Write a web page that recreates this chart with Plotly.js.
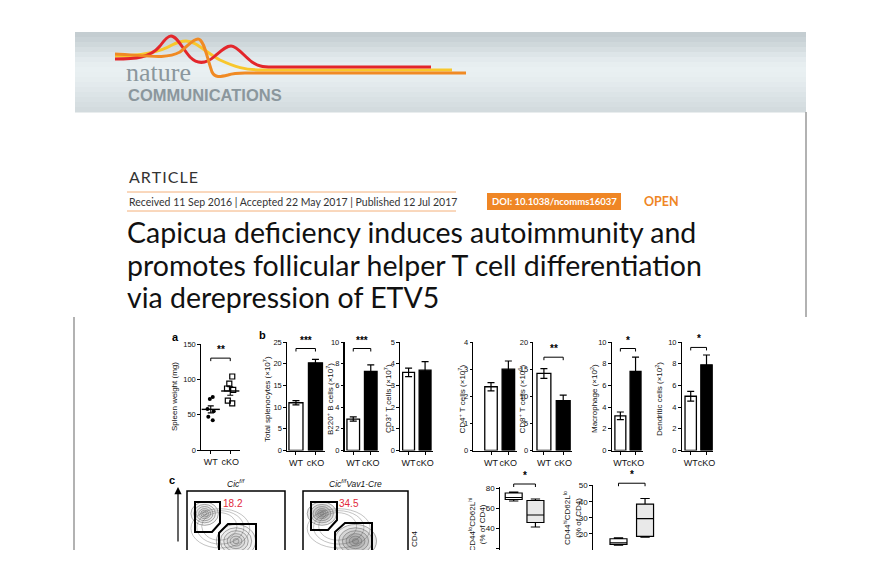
<!DOCTYPE html>
<html><head><meta charset="utf-8">
<script src="https://cdn.plot.ly/plotly-3.0.1.min.js"></script>
<style>html,body{margin:0;padding:0;background:#fff;overflow:hidden}#chart{width:880px;height:550px}</style>
</head><body><div id="chart"></div>
<script>
// ---------------- data ----------------
const groups = ['WT', 'cKO'];
// panel a: spleen weight (mg)
const spleenWT = [75, 72, 58, 55, 47, 42];
const spleenCKO = [104, 94, 87, 85, 70, 66];
const spleenMean = [57.5, 83.5];
const spleenSEM = [5, 6];
// panel b: bar means and SEM (WT, cKO)
const totalSplenocytes = [11.0, 20.2], totalSplenocytesSEM = [0.5, 0.8];
const b220BCells = [2.9, 7.3], b220BCellsSEM = [0.2, 0.6];
const cd3TCells = [3.6, 3.7], cd3TCellsSEM = [0.2, 0.4];
const cd4TCells = [2.35, 3.0], cd4TCellsSEM = [0.15, 0.3];
const cd8TCells = [14.2, 9.2], cd8TCellsSEM = [0.9, 1.0];
const macrophages = [3.2, 7.3], macrophagesSEM = [0.35, 1.3];
const dendriticCells = [5.0, 7.9], dendriticCellsSEM = [0.45, 0.9];
const barTitles = ['Total splenocytes (×10<sup>7</sup>)', 'B220<sup>+</sup> B cells (×10<sup>7</sup>)',
  'CD3<sup>+</sup> T cells (×10<sup>7</sup>)', 'CD4<sup>+</sup> T cells (×10<sup>7</sup>)',
  'CD8<sup>+</sup> T cells (×10<sup>6</sup>)', 'Macrophage (×10<sup>2</sup>)', 'Dendritic cells (×10<sup>2</sup>)'];
const barSignif = ['***', '***', '', '', '**', '*', '*'];
const barSignifLevel = [23.5, 9.4, 0, 0, 17.2, 9.4, 9.5];
const barYMax = [25, 10, 5, 4, 20, 10, 10];
const barYStep = [5, 2, 1, 1, 5, 2, 2];
// panel c: box plots (% of CD4) [lowerfence, q1, median, q3, upperfence]
const naiveWT = [67, 68.5, 70.5, 75, 76];
const naiveCKO = [41, 45.5, 53, 67.5, 69];
const effectorWT = [13, 13.5, 14.5, 17, 17.5];
const effectorCKO = [18, 18.5, 29.5, 38.5, 42];
const flowGateValues = ['18.2', '34.5'];
const flowTitles = ['<i>Cic<sup>f/f</sup></i>', '<i>Cic<sup>f/f</sup>Vav1-Cre</i>'];
// flow populations (axis units 0-100 x, 0-60 y)
const flowPopX = [18, 50];
const flowPopY = [37, 9];

// ---------------- helpers ----------------
const W = 880, H = 550;
const X = p => p / W, Y = p => 1 - p / H;
const FONT = '"Liberation Sans", Arial, sans-serif';
const BODY = 'Lato, "Open Sans", sans-serif';
const layout = {
  width: W, height: H, margin: {l: 0, r: 0, t: 0, b: 0},
  paper_bgcolor: '#fff', plot_bgcolor: 'rgba(0,0,0,0)', showlegend: false,
  bargap: 0.28, shapes: [], annotations: [], font: {family: FONT, color: '#111'}
};
const traces = [];
function ann(text, xp, yp, o) {
  layout.annotations.push(Object.assign({text: text, x: X(xp), y: Y(yp), xref: 'paper', yref: 'paper',
    showarrow: false, xanchor: 'center', yanchor: 'middle', font: {family: FONT, size: 9, color: '#111'}}, o || {}));
}
function rect(x0, y0, x1, y1, o) {
  layout.shapes.push(Object.assign({type: 'rect', xref: 'paper', yref: 'paper', x0: X(x0), x1: X(x1), y0: Y(y0), y1: Y(y1), line: {width: 0}}, o || {}));
}
function seg(x0, y0, x1, y1, color, w) {
  layout.shapes.push({type: 'line', xref: 'paper', yref: 'paper', x0: X(x0), x1: X(x1), y0: Y(y0), y1: Y(y1), line: {color: color, width: w}});
}
function pathPx(d, o) {
  const s = d.replace(/(-?\d+\.?\d*),(-?\d+\.?\d*)/g, (m, a, b) => X(+a).toFixed(5) + ',' + Y(+b).toFixed(5));
  layout.shapes.push(Object.assign({type: 'path', xref: 'paper', yref: 'paper', path: s}, o || {}));
}
let axN = 0;
function addAxes(xd, yd, xr, yr, xo, yo) {
  axN++;
  const s = axN === 1 ? '' : String(axN);
  layout['xaxis' + s] = Object.assign({domain: [X(xd[0]), X(xd[1])], range: xr, anchor: 'y' + s, type: 'category',
    showgrid: false, zeroline: false, fixedrange: true, showline: true, linecolor: '#000', linewidth: 1.2,
    ticks: 'outside', ticklen: 3, tickwidth: 1, tickcolor: '#000', tickangle: 0,
    tickfont: {family: FONT, size: 9, color: '#111'}}, xo || {});
  layout['yaxis' + s] = Object.assign({domain: [Y(yd[1]), Y(yd[0])], range: yr, anchor: 'x' + s,
    showgrid: false, zeroline: false, fixedrange: true, showline: true, linecolor: '#000', linewidth: 1.2,
    ticks: 'outside', ticklen: 2.5, tickwidth: 1, tickcolor: '#000', tickfont: {family: FONT, size: 7.5, color: '#111'}}, yo || {});
  return {x: 'x' + s, y: 'y' + s, yd: yd, yr: yr};
}
const yPx = (ax, v) => ax.yd[1] - (v - ax.yr[0]) / (ax.yr[1] - ax.yr[0]) * (ax.yd[1] - ax.yd[0]);
function bracket(ax, level, label) {
  const yb = yPx(ax, level);
  const l = {color: '#000', width: 1};
  layout.shapes.push({type: 'line', xref: ax.x, yref: 'paper', x0: 0, x1: 1, y0: Y(yb), y1: Y(yb), line: l});
  layout.shapes.push({type: 'line', xref: ax.x, yref: 'paper', x0: 0, x1: 0, y0: Y(yb), y1: Y(yb + 3), line: l});
  layout.shapes.push({type: 'line', xref: ax.x, yref: 'paper', x0: 1, x1: 1, y0: Y(yb), y1: Y(yb + 3), line: l});
  layout.annotations.push({text: label, xref: ax.x, yref: 'paper', x: 0.5, y: Y(yb - 1), yanchor: 'bottom',
    showarrow: false, font: {family: FONT, size: 10, color: '#000', weight: 'bold'}});
}

// ---------------- page header ----------------
const stripeColors = ['#c4cdd1', '#c9d2d6', '#cfd8db', '#d6dee1', '#dde5e8', '#e3eaed', '#e7eef0', '#e9f0f2',
  '#e8eff1', '#e6edef', '#e3eaed', '#e0e7ea', '#dce4e7', '#d9e1e4', '#d6dee1', '#d3dbde'];
const bandTop = 32, bandBot = 112, sh = (bandBot - bandTop) / stripeColors.length;
stripeColors.forEach((c, i) => rect(75, bandTop + i * sh, 806, bandTop + (i + 1) * sh + 0.6, {fillcolor: c, layer: 'below'}));
// logo waves
pathPx('M115,56 C140,56 160,52 172,45 C178,42 182,41 186,41 C196,41 205,52 220,60 C235,67 245,70 262,70 L452,70',
  {line: {color: '#f8c72c', width: 3}});
pathPx('M115,59 C135,59 150,58 160,46 C165,39 168,36 171,36 C177,36 182,48 190,57 C198,65 206,64 215,56 C222,50 226,46 231,46 C237,46 244,56 252,62 C258,66 262,67 272,67 L431,67',
  {line: {color: '#e3262b', width: 3}});
pathPx('M115,54 C145,55 165,60 180,52 C188,46 193,39 198,39 C204,39 207,58 212,72 C215,78 220,77 228,75 C234,73 238,73 245,73 L466,73',
  {line: {color: '#f08a24', width: 3}});
ann('nature', 124, 73, {xanchor: 'left', font: {family: '"Liberation Serif", "DejaVu Serif", serif', size: 26, color: '#8b979d'}});
ann('COMMUNICATIONS', 126, 94.5, {xanchor: 'left', font: {family: FONT, size: 16.5, color: '#8b979d', weight: 'bold'}});
// page border lines
seg(806, 112, 806, 317, '#999', 1.5);
seg(74, 317, 74, 550, '#999', 1.5);
// article header
ann('A\u200AR\u200AT\u200AI\u200AC\u200AL\u200AE', 127, 177, {xanchor: 'left', font: {family: BODY, size: 16, color: '#333'}});
seg(127, 192, 456, 192, '#f4b07a', 1);
seg(127, 211, 456, 211, '#f4b07a', 1);
ann('Received 11 Sep 2016 | Accepted 22 May 2017 | Published 12 Jul 2017', 127, 201.5, {xanchor: 'left', font: {family: BODY, size: 10.5, color: '#333'}});
rect(487, 193, 621, 210, {fillcolor: '#ef8625'});
ann('DOI: 10.1038/ncomms16037', 554, 201.5, {font: {family: BODY, size: 9.5, color: '#fff', weight: 'bold'}});
ann('OPEN', 661, 201, {font: {family: BODY, size: 12.5, color: '#ef8625', weight: 'bold'}});
['Capicua deficiency induces autoimmunity and', 'promotes follicular helper T cell differentiation', 'via derepression of ETV5']
  .forEach((t, i) => ann(t, 125, 232 + i * 32.5, {xanchor: 'left', font: {family: BODY, size: 28.5, color: '#111'}}));

// ---------------- panel a ----------------
const axA = addAxes([201, 240], [344, 450], [-0.5, 1.5], [0, 150], {}, {tick0: 0, dtick: 50});
traces.push({type: 'box', x: spleenWT.map(() => groups[0]), y: spleenWT, xaxis: axA.x, yaxis: axA.y,
  boxpoints: 'all', jitter: 0.8, pointpos: 0, line: {width: 0, color: 'rgba(0,0,0,0)'}, fillcolor: 'rgba(0,0,0,0)',
  marker: {symbol: 'circle', size: 4, color: '#000'}, hoverinfo: 'y'});
traces.push({type: 'box', x: spleenCKO.map(() => groups[1]), y: spleenCKO, xaxis: axA.x, yaxis: axA.y,
  boxpoints: 'all', jitter: 0.8, pointpos: 0, line: {width: 0, color: 'rgba(0,0,0,0)'}, fillcolor: 'rgba(0,0,0,0)',
  marker: {symbol: 'square-open', size: 5, color: '#000', line: {width: 1.2}}, hoverinfo: 'y'});
traces.push({type: 'scatter', mode: 'markers', x: groups, y: spleenMean, xaxis: axA.x, yaxis: axA.y,
  marker: {symbol: 'line-ew', size: 13, line: {width: 1.4, color: '#000'}},
  error_y: {type: 'data', array: spleenSEM, color: '#000', thickness: 1.1, width: 3}});
bracket(axA, 130, '**');
ann('Spleen weight (mg)', 174, 397, {textangle: -90, font: {family: FONT, size: 8, color: '#111'}});
ann('a', 175, 337, {font: {family: FONT, size: 11, color: '#000', weight: 'bold'}});

// ---------------- panel b ----------------
const barVals = [totalSplenocytes, b220BCells, cd3TCells, cd4TCells, cd8TCells, macrophages, dendriticCells];
const barErrs = [totalSplenocytesSEM, b220BCellsSEM, cd3TCellsSEM, cd4TCellsSEM, cd8TCellsSEM, macrophagesSEM, dendriticCellsSEM];
const barGeom = [
  {xd: [287, 325], xr: [-0.46, 1.49], tx: 267},
  {xd: [344.5, 379], xr: [-0.5, 1.47], tx: 330},
  {xd: [400, 433], xr: [-0.52, 1.48], tx: 388},
  {xd: [473.3, 516.7], xr: [-1.02, 1.48], tx: 461.5},
  {xd: [533.3, 571.7], xr: [-0.55, 1.44], tx: 521.5},
  {xd: [611.7, 643.3], xr: [-0.57, 1.51], tx: 594},
  {xd: [681.7, 713.3], xr: [-0.57, 1.43], tx: 659}
];
barVals.forEach((vals, i) => {
  const g = barGeom[i];
  const ax = addAxes(g.xd, [342, 450.5], g.xr, [0, barYMax[i]], {}, {tick0: 0, dtick: barYStep[i]});
  traces.push({type: 'bar', x: groups, y: vals, xaxis: ax.x, yaxis: ax.y,
    marker: {color: ['#fff', '#000'], line: {color: '#000', width: 1.3}},
    error_y: {type: 'data', array: barErrs[i], color: '#000', thickness: 1.2, width: 3.5}});
  if (barSignif[i]) bracket(ax, barSignifLevel[i], barSignif[i]);
  ann(barTitles[i], g.tx, 399, {textangle: -90, font: {family: FONT, size: 8, color: '#111'}});
});
ann('b', 262, 335, {font: {family: FONT, size: 11, color: '#000', weight: 'bold'}});

// ---------------- panel c: flow plots ----------------
ann('c', 172, 480, {font: {family: FONT, size: 11, color: '#000', weight: 'bold'}});
layout.annotations.push({x: X(178), y: Y(487), ax: 0, ay: 70, xref: 'paper', yref: 'paper', showarrow: true,
  arrowhead: 2, arrowsize: 1.2, arrowwidth: 1.2, arrowcolor: '#000', text: ' '});
const frames = [[187, 285], [303, 408]];
frames.forEach((f, k) => {
  const ax = addAxes(f, [491, 550], [0, 100], [0, 60],
    {type: 'linear', showline: false, ticks: '', showticklabels: false},
    {showline: false, ticks: '', showticklabels: false});
  const shade = k === 0 ? 'rgba(60,60,60,0.05)' : 'rgba(60,60,60,0.11)';
  // outer smear contours
  [[34, 22, 30, 20], [34, 23, 24, 17], [33, 24, 18, 14]].forEach(e => {
    layout.shapes.push({type: 'circle', xref: ax.x, yref: ax.y, x0: e[0] - e[2], x1: e[0] + e[2], y0: e[1] - e[3], y1: e[1] + e[3],
      line: {color: '#9a9a9a', width: 0.6}, fillcolor: 'rgba(0,0,0,0)'});
  });
  flowPopX.forEach((cx, p) => {
    const cy = flowPopY[p];
    const radii = p === 0 ? [14, 11, 8.5, 6, 4, 2] : [20, 16, 12.5, 9, 6, 3];
    radii.forEach(r => {
      layout.shapes.push({type: 'circle', xref: ax.x, yref: ax.y, x0: cx - r, x1: cx + r, y0: cy - r * 0.85, y1: cy + r * 0.85,
        line: {color: '#707070', width: 0.6}, fillcolor: shade});
    });
  });
  rect(f[0], 491, f[1], 570, {line: {color: '#000', width: 1.5}, fillcolor: 'rgba(0,0,0,0)'});
  ann(flowTitles[k], (f[0] + f[1]) / 2, 483, {font: {family: FONT, size: 8.5, color: '#111'}});
});
pathPx('M195,502 L220,502 L220,523 L212,532 L195,532 Z', {line: {color: '#000', width: 2}});
pathPx('M219,533 L228,524 L256,524 L256,565 L219,565 Z', {line: {color: '#000', width: 2}});
pathPx('M311,502 L337,502 L337,520 L328,530 L311,530 Z', {line: {color: '#000', width: 2}});
pathPx('M335,532 L345,523 L372,523 L372,565 L335,565 Z', {line: {color: '#000', width: 2}});
ann(flowGateValues[0], 232.5, 503, {font: {family: FONT, size: 10, color: '#e2283a'}});
ann(flowGateValues[1], 349, 503, {font: {family: FONT, size: 10, color: '#e2283a'}});
ann('CD4', 414, 539, {textangle: -90, font: {family: FONT, size: 8, color: '#111'}});

// ---------------- panel c: box plots ----------------
function boxTrace(ax, g, s, fill, width) {
  return {type: 'box', x: [g], lowerfence: [s[0]], q1: [s[1]], median: [s[2]], q3: [s[3]], upperfence: [s[4]],
    xaxis: ax.x, yaxis: ax.y, fillcolor: fill, line: {color: '#000', width: 1.2}, whiskerwidth: 0.55, width: width};
}
const noX = {showline: false, ticks: '', showticklabels: false};
const axB1 = addAxes([500, 545], [487, 550], [-0.63, 1.44], [18, 81], noX, {tick0: 0, dtick: 20, tickfont: {family: FONT, size: 8, color: '#111'}});
traces.push(boxTrace(axB1, groups[0], naiveWT, '#fff', 0.78));
traces.push(boxTrace(axB1, groups[1], naiveCKO, '#e9e9e9', 0.78));
bracket(axB1, 84, '*');
ann('CD44<sup>lo</sup>CD62L<sup>hi</sup><br>(% of CD4)', 476.5, 525, {textangle: -90, font: {family: FONT, size: 8, color: '#111'}});
const axB2 = addAxes([593, 657], [485, 550], [-0.96, 1.45], [10, 50.4], noX, {tick0: 0, dtick: 10, tickfont: {family: FONT, size: 8, color: '#111'}});
traces.push(boxTrace(axB2, groups[0], effectorWT, '#fff', 0.64));
traces.push(boxTrace(axB2, groups[1], effectorCKO, '#e9e9e9', 0.64));
bracket(axB2, 51.5, '*');
ann('CD44<sup>hi</sup>CD62L<sup>lo</sup><br>(% of CD4)', 572, 518, {textangle: -90, font: {family: FONT, size: 8, color: '#111'}});

Plotly.newPlot('chart', traces, layout, {displayModeBar: false, staticPlot: true});
</script></body></html>
